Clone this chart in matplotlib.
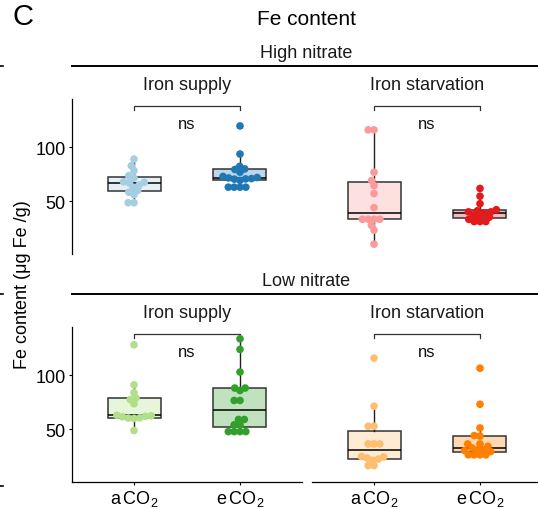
import matplotlib
matplotlib.use('Agg')
import matplotlib.pyplot as plt
import seaborn as sns
import pandas as pd
from matplotlib.colors import to_rgba
from matplotlib.lines import Line2D

plt.rcParams['font.family'] = ['Liberation Sans', 'DejaVu Sans']

co2_groups = ['aCO2', 'eCO2']
co2_labels = [r'$\mathregular{a\,CO_2}$', r'$\mathregular{e\,CO_2}$']

# Fe content (ug Fe / g)
high_supply_a = [48.5, 48.5, 56, 58.3, 60, 63, 65, 67, 67.6, 68, 71.5, 73.8, 78.4, 83, 89.2]
high_supply_e = [63, 63, 63, 63, 69.3, 70.5, 70.7, 71, 71.6, 72, 73, 77, 79.5, 80, 82.4, 93.9, 120.1]
high_starv_a = [9.9, 22.9, 27.5, 33.1, 33.1, 33.1, 33.1, 43.9, 57.1, 64.5, 69.2, 76.9, 116.4, 116.4]
high_starv_e = [30.9, 30.9, 30.9, 33, 35, 36, 37, 38.6, 40, 40, 41, 42, 47.6, 54.6, 61.8]
low_supply_a = [48.7, 60, 60.3, 60.5, 61.5, 62, 62.4, 63, 73.6, 77.6, 79, 83.9, 91.3, 128.6]
low_supply_e = [47.7, 47.7, 47.7, 47.7, 54, 54, 59, 59, 76.7, 76.7, 86, 88.3, 88.3, 103.2, 124.3, 134.2]
low_starv_a = [16, 16, 21, 22, 23, 24, 24.5, 36.2, 36.2, 36.2, 52.7, 52.7, 71.4, 116.2]
low_starv_e = [26, 26, 26, 26, 29, 30, 30.6, 31, 32.6, 34, 36.2, 36.2, 43.5, 44, 51.1, 73.2, 106.8]

panels = [
    ('high', 'supply', high_supply_a, high_supply_e, ['#a6cee3', '#1f78b4']),
    ('high', 'starv', high_starv_a, high_starv_e, ['#fb9a99', '#e31a1c']),
    ('low', 'supply', low_supply_a, low_supply_e, ['#b2df8a', '#33a02c']),
    ('low', 'starv', low_starv_a, low_starv_e, ['#fdbf6f', '#ff7f00']),
]

W, H = 538, 510
fig = plt.figure(figsize=(W / 100, H / 100), dpi=100)

def px(x0, y0, x1, y1):
    return [x0 / W, 1 - y1 / H, (x1 - x0) / W, (y1 - y0) / H]

boxes = {
    ('high', 'supply'): px(72, 100, 302, 255),
    ('high', 'starv'): px(312, 100, 542, 255),
    ('low', 'supply'): px(72, 328, 302, 483),
    ('low', 'starv'): px(312, 328, 542, 483),
}

swarms = []
for row, iron, a_vals, e_vals, cols in panels:
    ax = fig.add_axes(boxes[(row, iron)])
    bp = ax.boxplot([a_vals, e_vals], positions=[0, 1], widths=0.5,
                    patch_artist=True, showfliers=False, showcaps=False,
                    manage_ticks=False, zorder=1,
                    medianprops=dict(color='black', lw=1.1),
                    whiskerprops=dict(color='#222222', lw=1.0),
                    boxprops=dict(edgecolor='#333333', lw=1.1))
    for patch, c in zip(bp['boxes'], cols):
        patch.set_facecolor(to_rgba(c, 0.3))
    df = pd.DataFrame({'co2': ['aCO2'] * len(a_vals) + ['eCO2'] * len(e_vals),
                       'fe': a_vals + e_vals})
    n_before = len(ax.collections)
    sns.swarmplot(data=df, x='co2', y='fe', hue='co2', order=co2_groups,
                  hue_order=co2_groups, palette=cols, size=4.0, ax=ax,
                  legend=False, zorder=3)
    swarms.append((ax, ax.collections[n_before:]))

    # significance bracket
    ax.plot([0, 0, 1, 1], [135, 138.7, 138.7, 135], color='#333333', lw=0.9)
    ax.text(0.5, 122, 'ns', ha='center', va='center', fontsize=12, color='#111111')

    ax.set_xlim(-0.585, 1.585)
    ax.set_ylim(0.7, 145.2)
    ax.set_xlabel('')
    ax.set_ylabel('')
    for s in ['top', 'right']:
        ax.spines[s].set_visible(False)
    for s in ['left', 'bottom']:
        ax.spines[s].set_linewidth(0.9)
    ax.tick_params(length=2.5, width=0.8, labelsize=13, colors='black', pad=2)
    ax.set_yticks([50, 100])
    ax.set_xticks([0, 1])
    ax.set_xticklabels(co2_labels)
    if row == 'high':
        ax.spines['bottom'].set_visible(False)
        ax.tick_params(axis='x', bottom=False, labelbottom=False)
    if iron == 'starv':
        ax.spines['left'].set_visible(False)
        ax.tick_params(axis='y', left=False, labelleft=False)

# let seaborn lay out the swarms with small dots, then redraw them larger
fig.canvas.draw()
for ax, colls in swarms:
    for coll in colls:
        xy = coll.get_offsets().copy()
        fc = coll.get_facecolors()
        coll.remove()
        ax.scatter(xy[:, 0], xy[:, 1], s=5.5 ** 2, c=fc, linewidths=0, zorder=3)

# strip labels and lines
def ftext(x, y, s, **kw):
    fig.text(x / W, 1 - y / H, s, **kw)

ftext(12, 25, 'C', fontsize=21, ha='left', va='baseline')
ftext(306, 25, 'Fe content', fontsize=15, ha='center', va='baseline')
ftext(306, 58, 'High nitrate', fontsize=13, ha='center', va='baseline', color='#1a1a1a')
ftext(306, 286, 'Low nitrate', fontsize=13, ha='center', va='baseline', color='#1a1a1a')
for yb in [90.5, 318.5]:
    ftext(187, yb, 'Iron supply', fontsize=13, ha='center', va='baseline', color='#1a1a1a')
    ftext(427, yb, 'Iron starvation', fontsize=13, ha='center', va='baseline', color='#1a1a1a')
ftext(23, 285, 'Fe content (μg Fe /g)', fontsize=13, rotation=90, ha='center', va='center')

for yl in [67, 295]:
    fig.add_artist(Line2D([72 / W, 1], [1 - yl / H] * 2, color='black', lw=1.4))
for yl in [67, 295, 487]:
    fig.add_artist(Line2D([0, 3 / W], [1 - yl / H] * 2, color='black', lw=1.2))

fig.savefig('out.png', dpi=100)
